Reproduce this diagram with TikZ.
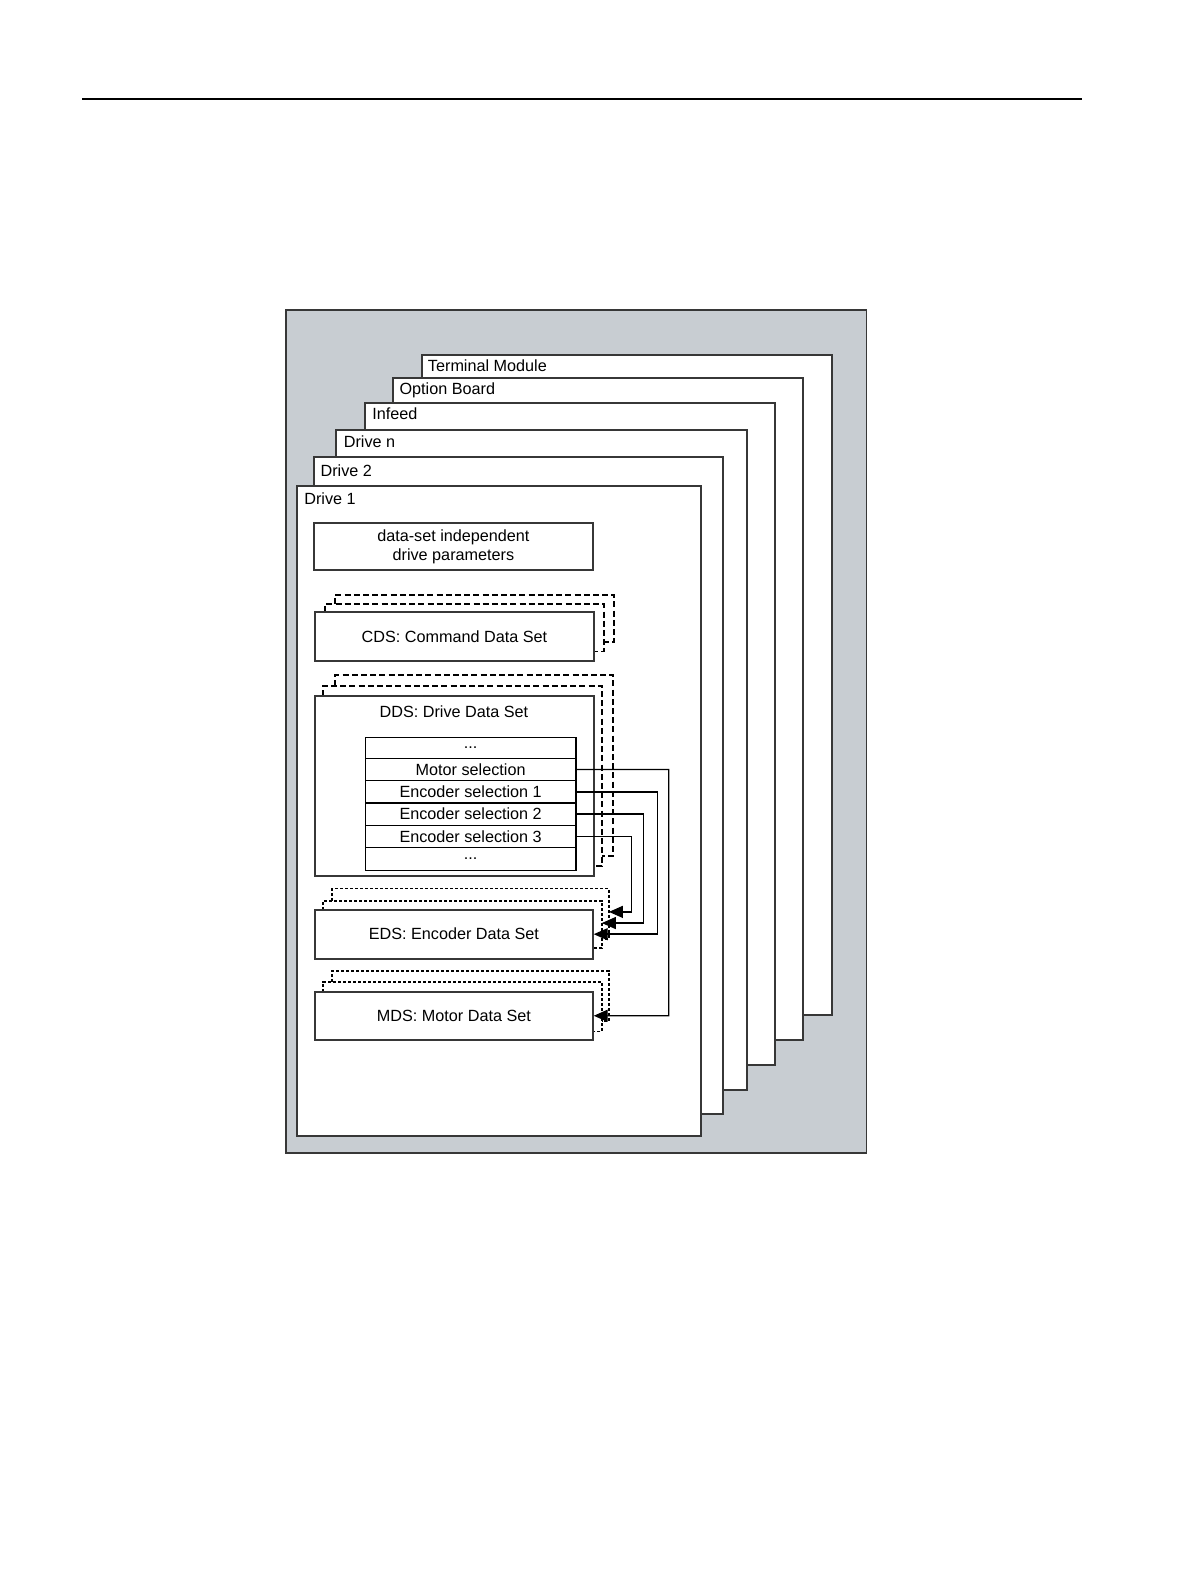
\documentclass[tikz,border=0pt]{standalone}
\usepackage{fontspec}
\setmainfont{Liberation Sans}
\usetikzlibrary{fit,arrows.meta}
\definecolor{panel}{RGB}{200,205,210}
\definecolor{edge}{RGB}{55,55,55}
\begin{document}
\begin{tikzpicture}[x=0.5066pt,y=-0.5066pt,
  txt/.style={font=\fontsize{8.1}{9.7}\selectfont},
  layer/.style={draw=edge,line width=1pt,fill=white,inner sep=0pt},
  box/.style={draw=edge,line width=1pt,fill=white,inner sep=0pt,txt,align=center},
  row/.style={draw=black,line width=0.75pt,inner sep=0pt,txt},
  lbl/.style={anchor=base west,inner sep=0pt,txt},
  dsh/.style={draw=black,line width=0.9pt,dash pattern=on 3pt off 1.6pt},
  dts/.style={draw=black,line width=0.9pt,dash pattern=on 1.5pt off 1pt},
  conn/.style={draw=black,line width=0.7pt,-{Triangle[length=7pt,width=6pt]}}]
\useasboundingbox (0,0) rectangle (1175.5,1566.3);
% top rule
\coordinate (ruleL) at (81,98);
\coordinate (ruleR) at (1068,98);
\draw[line width=0.8pt] (ruleL) -- (ruleR);
% panel
\node[fill=panel,draw=edge,line width=0.8pt,inner sep=0pt,fit={(282,306)(855,1138)}] (panel) {};
% layers
\node[layer,fit={(416,350)(821,1002)}] (term) {};
\node[lbl] (termt) at (422,367) {Terminal Module};
\node[layer,fit={(388,373)(793,1026)}] (opt) {};
\node[lbl] (optt) at (394,389) {Option Board};
\node[layer,fit={(360,398)(765,1051)}] (inf) {};
\node[lbl] (inft) at (367,414) {Infeed};
\node[layer,fit={(332,424)(737,1076)}] (drvn) {};
\node[lbl] (drvnt) at (339,442) {Drive n};
\node[layer,fit={(310,451)(714,1099)}] (drv2) {};
\node[lbl] (drv2t) at (316,470) {Drive 2};
\node[layer,fit={(293,480)(692,1121)}] (drv1) {};
\node[lbl] (drv1t) at (300,498) {Drive 1};
% data-set independent
\node[box,fit={(310,516)(585,563)}] (dsi) {};
\node[txt,align=center,inner sep=0pt] (dsit) at (dsi.center) {data-set independent\\drive parameters};
% CDS
\draw[dsh] (331,596) |- (606,587) |- (596,634);
\draw[dsh] (321,604) |- (596,596) |- (586,643);
\node[box,fit={(311,604)(586,652)}] (cds) {};
\node[txt,inner sep=0pt] (cdst) at (cds.center) {CDS: Command Data Set};
% DDS
\draw[dsh] (331,677) |- (605,666) |- (594,845);
\draw[dsh] (318.5,687) |- (594,677) |- (586,855);
\node[box,fit={(311,687)(586,865)}] (dds) {};
\node[txt,inner sep=0pt] (ddst) at (448,702) {DDS: Drive Data Set};
\node[row,fit={(360.5,728)(568.5,748.5)}] (r0) {};
\node[row,fit={(360.5,748.5)(568.5,770.5)}] (rmot) {};
\node[row,fit={(360.5,770.5)(568.5,792.5)}] (renc1) {};
\node[row,fit={(360.5,792.5)(568.5,814.5)}] (renc2) {};
\node[row,fit={(360.5,814.5)(568.5,836.5)}] (renc3) {};
\node[row,fit={(360.5,836.5)(568.5,859)}] (r5) {};
\node[txt,inner sep=0pt] at (r0.center) {...};
\node[txt,inner sep=0pt] at (rmot.center) {Motor selection};
\node[txt,inner sep=0pt] at (renc1.center) {Encoder selection 1};
\node[txt,inner sep=0pt] at (renc2.center) {Encoder selection 2};
\node[txt,inner sep=0pt] at (renc3.center) {Encoder selection 3};
\node[txt,inner sep=0pt] at (r5.center) {...};
% EDS
\draw[dts] (328,889) |- (601,877) |- (594,927);
\draw[dts] (319,898) |- (594,889) |- (585,936);
\node[box,fit={(311,898)(585,946)}] (eds) {};
\node[txt,inner sep=0pt] (edst) at (eds.center) {EDS: Encoder Data Set};
\coordinate (edsB) at (594,911);
\coordinate (edsC) at (601,900);
% MDS
\draw[dts] (328,969) |- (601,958) |- (594,1008);
\draw[dts] (319,979) |- (594,969) |- (585,1018);
\node[box,fit={(311,979)(585,1026)}] (mds) {};
\node[txt,inner sep=0pt] (mdst) at (mds.center) {MDS: Motor Data Set};
% connectors
\draw[conn] (rmot.east) -| (660,1002.5) -- (mds.east);
\draw[conn] (renc1.east) -| (649,922) -- (eds.east);
\draw[conn] (renc2.east) -| (635,911) -- (edsB);
\draw[conn] (renc3.east) -| (623,900) -- (edsC);
\end{tikzpicture}
\end{document}
